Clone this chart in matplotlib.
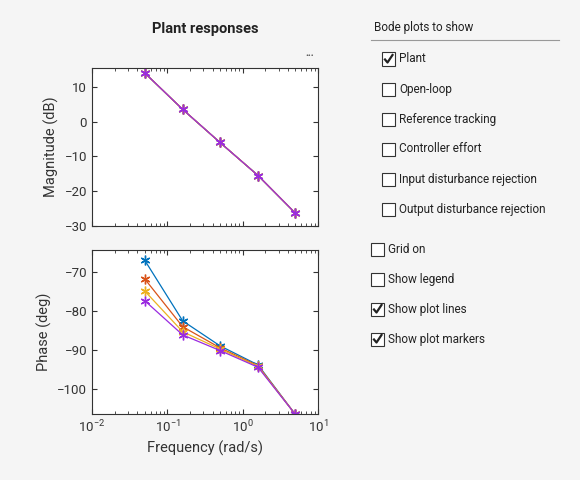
import matplotlib
matplotlib.use("Agg")
import matplotlib.pyplot as plt
import numpy as np

plt.rcParams['font.family'] = ['Roboto', 'DejaVu Sans']

freq = [0.05, 0.16, 0.5, 1.6, 5.0]
mag_db = [
    [14.0, 3.5, -6.0, -15.5, -26.3],
    [14.0, 3.5, -6.0, -15.5, -26.3],
    [14.0, 3.5, -6.0, -15.5, -26.3],
    [14.0, 3.5, -6.0, -15.5, -26.3],
]
phase_deg = [
    [-67.0, -82.6, -89.0, -93.9, -106.6],
    [-71.8, -84.1, -89.5, -94.1, -106.6],
    [-74.9, -85.4, -89.8, -94.3, -106.6],
    [-77.4, -86.2, -90.2, -94.5, -106.6],
]
colors = ["#0072BD", "#D95319", "#EDB120", "#9A2BE0"]
options = ["Plant", "Open-loop", "Reference tracking", "Controller effort",
           "Input disturbance rejection", "Output disturbance rejection"]
opt_checked = [True, False, False, False, False, False]
settings = ["Grid on", "Show legend", "Show plot lines", "Show plot markers"]
set_checked = [False, False, True, True]

bg = "#F5F5F5"
fig = plt.figure(figsize=(5.8, 4.8), dpi=100, facecolor=bg)
W, H = 580, 480
def ax_rect(x0, y0, x1, y1):
    return [x0 / W, 1 - y1 / H, (x1 - x0) / W, (y1 - y0) / H]

ax1 = fig.add_axes(ax_rect(92, 68, 318, 226))
ax2 = fig.add_axes(ax_rect(92, 250, 318, 414))
for ax in (ax1, ax2):
    ax.set_xscale("log")
    ax.set_xlim(0.01, 10)
    ax.tick_params(labelsize=9.5, colors="#333333", direction="in", which="both", top=True, right=True)
    for s in ax.spines.values():
        s.set_color("#333333")
mk = (6, 2, 0)
for m, c in zip(mag_db, colors):
    ax1.plot(freq, m, color=c, marker=mk, lw=0.9, ms=7, markeredgewidth=1.0)
for p, c in zip(phase_deg, colors):
    ax2.plot(freq, p, color=c, marker=mk, lw=0.9, ms=7, markeredgewidth=1.0)
ax1.set_ylim(-30, 15.4)
ax1.set_yticks([-30, -20, -10, 0, 10])
ax1.set_xticklabels([])
ax2.set_ylim(-106.5, -64.4)
ax2.set_yticks([-100, -90, -80, -70])
ax1.set_ylabel("Magnitude (dB)", fontsize=10.5, color="#333333")
ax2.set_ylabel("Phase (deg)", fontsize=10.5, color="#333333")
ax2.set_xlabel("Frequency (rad/s)", fontsize=10.5, color="#333333")
fig.text(205 / W, 1 - 29 / H, "Plant responses", ha="center", va="center",
         fontsize=10.5, fontweight="bold", color="#222222")
fig.text(310 / W, 1 - 56 / H, "•••", ha="center", va="center", fontsize=6, color="#555555")

fig.text(374 / W, 1 - 28 / H, "Bode plots to show", fontsize=8.5, va="center", color="#222222")
fig.add_artist(plt.Line2D([371 / W, 559 / W], [1 - 40 / H, 1 - 40 / H], color="#999999", lw=0.8))

def checkbox(x, y, label, checked):
    s = 13
    fig.add_artist(plt.Rectangle((x / W, 1 - (y + s / 2) / H), s / W, s / H,
                                 facecolor="white", edgecolor="#333333", lw=0.8))
    if checked:
        fig.add_artist(plt.Line2D([(x + 3) / W, (x + 5.5) / W, (x + 10.5) / W],
                                  [1 - (y + 0.5) / H, 1 - (y + 3.5) / H, 1 - (y - 4) / H],
                                  color="#222222", lw=1.6))
    fig.text((x + 17) / W, 1 - y / H, label, fontsize=8.5, va="center", color="#222222")

for i, (lab, ch) in enumerate(zip(options, opt_checked)):
    checkbox(382, 59 + 30 * i, lab, ch)
for i, (lab, ch) in enumerate(zip(settings, set_checked)):
    checkbox(371, 249 + 30 * i, lab, ch)

fig.savefig("out.png", dpi=100, facecolor=bg)
